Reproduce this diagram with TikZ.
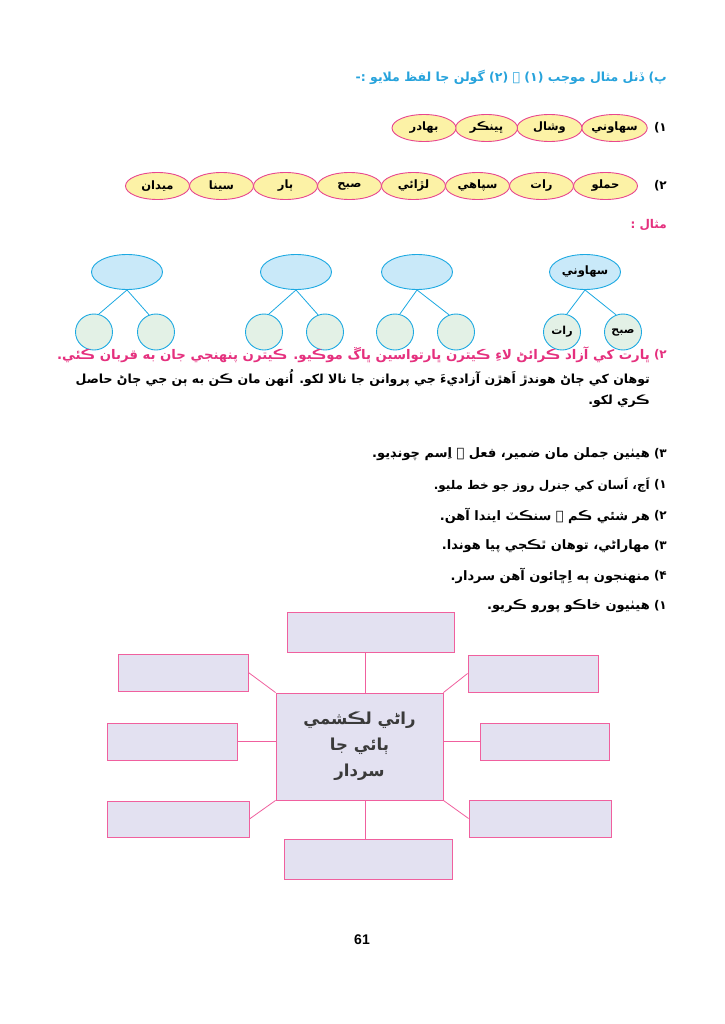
\documentclass[tikz,border=0pt]{standalone}
\usepackage{fontspec}
\usetikzlibrary{shapes.geometric}
\TeXXeTstate=1
\setmainfont{Liberation Sans}
\newfontfamily\sd[Script=Arabic]{DejaVu Sans}
\definecolor{wpink}{HTML}{E8478F}
\definecolor{wyellow}{HTML}{FCF2A6}
\definecolor{tblue}{HTML}{1CA9E2}
\definecolor{tfill}{HTML}{C9E9F9}
\definecolor{lfill}{HTML}{E3F1E6}
\definecolor{bpink}{HTML}{F0609E}
\definecolor{bfill}{HTML}{E3E1F1}
\definecolor{hblue}{HTML}{27A3DC}
\definecolor{tpink}{HTML}{E5307E}
\definecolor{ctext}{HTML}{3A3A3A}
\begin{document}
\begin{tikzpicture}[x=1pt,y=-1pt,
  word/.style={ellipse, draw=wpink, fill=wyellow, line width=0.9pt, minimum width=64pt, minimum height=27pt, inner sep=0pt, font=\sd\bfseries\fontsize{11.5}{13}\selectfont},
  topell/.style={ellipse, draw=tblue, fill=tfill, line width=0.9pt, minimum width=71pt, minimum height=35pt, inner sep=0pt, font=\sd\bfseries\fontsize{11.5}{13}\selectfont},
  leaf/.style={ellipse, draw=tblue, fill=lfill, line width=0.9pt, minimum width=37pt, minimum height=36pt, inner sep=0pt, font=\sd\bfseries\fontsize{11}{13}\selectfont},
  tconn/.style={draw=tblue, line width=0.8pt},
  mbox/.style={rectangle, draw=bpink, fill=bfill, line width=0.9pt, inner sep=0pt},
  mconn/.style={draw=bpink, line width=0.8pt},
  txt/.style={anchor=east, inner sep=0pt, font=\sd\bfseries\fontsize{13}{15}\selectfont},
  num/.style={anchor=east, inner sep=0pt, font=\sd\bfseries\fontsize{12}{14}\selectfont}]
\useasboundingbox (0,0) rectangle (724,1024);
\fill[white] (0,0) rectangle (724,1024);

% heading
\node[txt, text=hblue, font=\sd\bfseries\fontsize{12.5}{14}\selectfont] (head) at (667,77) {\beginR پ) ڏنل مثال موجب (۱) ۽ (۲) گولن جا لفظ ملايو :-\endR};

% row 1
\node[num] (n1) at (667,128) {۱)};
\node[word, minimum width=65pt] (a1) at (614.5,128) {سهاوني};
\node[word, minimum width=65pt] (a2) at (549.5,128) {وشال};
\node[word, minimum width=62pt] (a3) at (486.5,128) {ڀينڪر};
\node[word, minimum width=64pt] (a4) at (424,128) {بهادر};

% row 2
\node[num] (n2) at (667,186) {۲)};
\node[word] (b1) at (605.5,186) {حملو};
\node[word] (b2) at (541.5,186) {رات};
\node[word] (b3) at (477.5,186) {سپاهي};
\node[word] (b4) at (413.5,186) {لڙائي};
\node[word] (b5) at (349.5,186) {صبح};
\node[word] (b6) at (285.5,186) {ٻار};
\node[word] (b7) at (221.5,186) {سينا};
\node[word] (b8) at (157.5,186) {ميدان};

% example label
\node[txt, text=tpink, font=\sd\bfseries\fontsize{12}{14}\selectfont] (ex) at (667,225) {\beginR مثال :\endR};

% trees
\node[topell] (t1) at (127,272) {};
\node[leaf] (t1a) at (94,332) {};
\node[leaf] (t1b) at (156,332) {};
\node[topell] (t2) at (296,272) {};
\node[leaf] (t2a) at (264,332) {};
\node[leaf] (t2b) at (325,332) {};
\node[topell] (t3) at (417,272) {};
\node[leaf] (t3a) at (395,332) {};
\node[leaf] (t3b) at (456,332) {};
\node[topell] (t4) at (585,272) {سهاوني};
\node[leaf] (t4a) at (562,332) {\raisebox{-5pt}{رات}};
\node[leaf] (t4b) at (623,332) {\raisebox{-5pt}{صبح}};
\foreach \p in {t1,t2,t3,t4}{
  \draw[tconn] (\p.south) -- (\p a.75);
  \draw[tconn] (\p.south) -- (\p b.112);
}

% paragraph
\node[num, text=tpink] (n3) at (667,355) {۲)};
\node[txt, text=tpink, font=\sd\bfseries\fontsize{13.25}{15}\selectfont] (p1) at (650,355) {\beginR ڀارت کي آزاد ڪرائڻ لاءِ ڪيترن ڀارتواسين ڀاڱ موڪيو. ڪيترن پنهنجي جان به قربان ڪئي.\endR};
\node[txt, font=\sd\bfseries\fontsize{12.5}{15}\selectfont] (p2) at (650,378) {\beginR توهان کي ڄاڻ هوندڙ اَهڙن آزاديءَ جي پروانن جا نالا لکو. اُنهن مان ڪن به ٻن جي ڄاڻ حاصل\endR};
\node[txt, font=\sd\bfseries\fontsize{12.5}{15}\selectfont] (p3) at (650,401) {\beginR ڪري لکو.\endR};

% exercise 3
\node[num] (m0) at (667,454) {۳)};
\node[txt] (q0) at (650,454) {\beginR هيٺين جملن مان ضمير، فعل ۽ اِسم چونڊيو.\endR};
\node[num] (m1) at (667,485) {۱)};
\node[txt, font=\sd\bfseries\fontsize{12}{15}\selectfont] (q1) at (650,485) {\beginR اَڄ، اَسان کي جنرل روز جو خط مليو.\endR};
\node[num] (m2) at (667,516) {۲)};
\node[txt] (q2) at (650,516) {\beginR هر شئي ڪم ۾ سنڪٽ ايندا آهن.\endR};
\node[num] (m3) at (667,546) {۳)};
\node[txt] (q3) at (650,546) {\beginR مهاراڻي، توهان ٿڪجي پيا هوندا.\endR};
\node[num] (m4) at (667,576) {۴)};
\node[txt] (q4) at (650,576) {\beginR منهنجون ٻه اِڇائون آهن سردار.\endR};
\node[num] (m5) at (667,606) {۱)};
\node[txt] (q5) at (650,606) {\beginR هيٺيون خاڪو پورو ڪريو.\endR};

% mind map
\node[mbox, minimum width=167pt, minimum height=107pt, text=ctext, align=center,
      font=\sd\bfseries\fontsize{16.5}{26}\selectfont] (C) at (359.5,746.5)
      {\beginR راڻي لڪشمي\endR\\ \beginR ٻائي جا\endR\\ \beginR سردار\endR};
\node[mbox, minimum width=167pt, minimum height=40pt] (T) at (370.5,632) {};
\node[mbox, minimum width=130pt, minimum height=37pt] (TL) at (183,672.5) {};
\node[mbox, minimum width=130pt, minimum height=37pt] (L) at (172,741.5) {};
\node[mbox, minimum width=142pt, minimum height=36pt] (BL) at (178,819) {};
\node[mbox, minimum width=168pt, minimum height=40pt] (B) at (368,859) {};
\node[mbox, minimum width=130pt, minimum height=37pt] (TR) at (533,673.5) {};
\node[mbox, minimum width=129pt, minimum height=37pt] (R) at (544.5,741.5) {};
\node[mbox, minimum width=142pt, minimum height=37pt] (BR) at (540,818.5) {};
\coordinate (mx) at (365,0);
\coordinate (my) at (0,741);
\draw[mconn] (T.south -| mx) -- (C.north -| mx);
\draw[mconn] (C.south -| mx) -- (B.north -| mx);
\draw[mconn] (L.east |- my) -- (C.west |- my);
\draw[mconn] (C.east |- my) -- (R.west |- my);
\draw[mconn] (TL.east) -- (C.north west);
\draw[mconn] (BL.east) -- (C.south west);
\draw[mconn] (TR.west) -- (C.north east);
\draw[mconn] (BR.west) -- (C.south east);

% page number
\node[inner sep=0pt, font=\bfseries\fontsize{14}{16}\selectfont] (pg) at (362,940) {61};
\end{tikzpicture}
\end{document}
